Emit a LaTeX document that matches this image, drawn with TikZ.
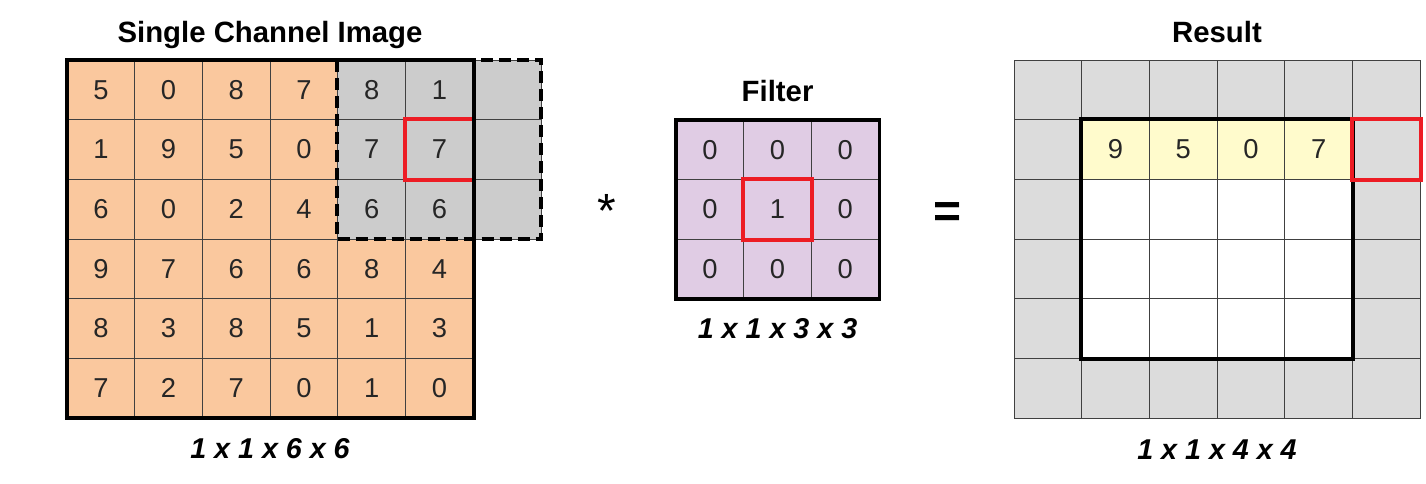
\documentclass[tikz,border=0pt]{standalone}
\usepackage{fontspec}
\setmainfont{Liberation Sans}
\definecolor{peach}{HTML}{FAC89E}
\definecolor{padgray}{HTML}{CCCCCC}
\definecolor{lilac}{HTML}{E0CCE4}
\definecolor{cream}{HTML}{FFFBCC}
\definecolor{ringgray}{HTML}{DCDCDC}
\definecolor{hired}{HTML}{ED1C24}

\begin{document}
\begin{tikzpicture}[x=0.75pt, y=-0.75pt,
  cell/.style={rectangle, draw=black!75, line width=0.6pt, minimum width=50.8pt, minimum height=44.75pt, inner sep=0pt, text=black!85, font=\fontsize{20.5}{20.5}\selectfont},
  headline/.style={anchor=base, font=\fontsize{22}{22}\selectfont\bfseries},
  dimlabel/.style={anchor=base, font=\fontsize{21.5}{21.5}\selectfont\bfseries\itshape},
  opsym/.style={anchor=base, font=\fontsize{36}{36}\selectfont},
  gridframe/.style={draw=black, line width=2.9pt},
  padframe/.style={draw=black, line width=2.9pt, dash pattern=on 9pt off 4.5pt},
  redbox/.style={draw=hired, line width=2.9pt}]
  \filldraw[fill=white, draw=none] (0,0) rectangle (1426,483);
  % input image
  \node[cell, fill=peach] (i11) at (100.85,89.83) {5};
  \node[cell, fill=peach] (i12) at (168.55,89.83) {0};
  \node[cell, fill=peach] (i13) at (236.25,89.83) {8};
  \node[cell, fill=peach] (i14) at (303.95,89.83) {7};
  \node[cell, fill=padgray] (i15) at (371.65,89.83) {8};
  \node[cell, fill=padgray] (i16) at (439.35,89.83) {1};
  \node[cell, fill=padgray] (p1) at (507.05,89.83) {};
  \node[cell, fill=peach] (i21) at (100.85,149.5) {1};
  \node[cell, fill=peach] (i22) at (168.55,149.5) {9};
  \node[cell, fill=peach] (i23) at (236.25,149.5) {5};
  \node[cell, fill=peach] (i24) at (303.95,149.5) {0};
  \node[cell, fill=padgray] (i25) at (371.65,149.5) {7};
  \node[cell, fill=padgray] (i26) at (439.35,149.5) {7};
  \node[cell, fill=padgray] (p2) at (507.05,149.5) {};
  \node[cell, fill=peach] (i31) at (100.85,209.17) {6};
  \node[cell, fill=peach] (i32) at (168.55,209.17) {0};
  \node[cell, fill=peach] (i33) at (236.25,209.17) {2};
  \node[cell, fill=peach] (i34) at (303.95,209.17) {4};
  \node[cell, fill=padgray] (i35) at (371.65,209.17) {6};
  \node[cell, fill=padgray] (i36) at (439.35,209.17) {6};
  \node[cell, fill=padgray] (p3) at (507.05,209.17) {};
  \node[cell, fill=peach] (i41) at (100.85,268.83) {9};
  \node[cell, fill=peach] (i42) at (168.55,268.83) {7};
  \node[cell, fill=peach] (i43) at (236.25,268.83) {6};
  \node[cell, fill=peach] (i44) at (303.95,268.83) {6};
  \node[cell, fill=peach] (i45) at (371.65,268.83) {8};
  \node[cell, fill=peach] (i46) at (439.35,268.83) {4};
  \node[cell, fill=peach] (i51) at (100.85,328.5) {8};
  \node[cell, fill=peach] (i52) at (168.55,328.5) {3};
  \node[cell, fill=peach] (i53) at (236.25,328.5) {8};
  \node[cell, fill=peach] (i54) at (303.95,328.5) {5};
  \node[cell, fill=peach] (i55) at (371.65,328.5) {1};
  \node[cell, fill=peach] (i56) at (439.35,328.5) {3};
  \node[cell, fill=peach] (i61) at (100.85,388.17) {7};
  \node[cell, fill=peach] (i62) at (168.55,388.17) {2};
  \node[cell, fill=peach] (i63) at (236.25,388.17) {7};
  \node[cell, fill=peach] (i64) at (303.95,388.17) {0};
  \node[cell, fill=peach] (i65) at (371.65,388.17) {1};
  \node[cell, fill=peach] (i66) at (439.35,388.17) {0};
  \draw[padframe] (i15.north west) rectangle (p3.south east);
  \draw[redbox] (i26.north west) rectangle (i26.south east);
  \draw[gridframe] (i11.north west) rectangle (i66.south east);
  \node[headline] (imgtitle) at (270,42) {Single Channel Image};
  \node[dimlabel] (imgshape) at (270,458) {1 x 1 x 6 x 6};
  % filter
  \node[opsym] (conv) at (607,227) {*};
  \node[cell, fill=lilac] (f11) at (709.85,149.83) {0};
  \node[cell, fill=lilac] (f12) at (777.55,149.83) {0};
  \node[cell, fill=lilac] (f13) at (845.25,149.83) {0};
  \node[cell, fill=lilac] (f21) at (709.85,209.5) {0};
  \node[cell, fill=lilac] (f22) at (777.55,209.5) {1};
  \node[cell, fill=lilac] (f23) at (845.25,209.5) {0};
  \node[cell, fill=lilac] (f31) at (709.85,269.17) {0};
  \node[cell, fill=lilac] (f32) at (777.55,269.17) {0};
  \node[cell, fill=lilac] (f33) at (845.25,269.17) {0};
  \draw[redbox] (f22.north west) rectangle (f22.south east);
  \draw[gridframe] (f11.north west) rectangle (f33.south east);
  \node[headline] (filtitle) at (777.55,101) {Filter};
  \node[dimlabel] (filshape) at (777.55,338) {1 x 1 x 3 x 3};
  \node[opsym, font=\fontsize{36}{36}\selectfont\bfseries] (equals) at (947,227) {=};
  % result
  \node[cell, fill=ringgray] (r11) at (1047.85,89.83) {};
  \node[cell, fill=ringgray] (r12) at (1115.55,89.83) {};
  \node[cell, fill=ringgray] (r13) at (1183.25,89.83) {};
  \node[cell, fill=ringgray] (r14) at (1250.95,89.83) {};
  \node[cell, fill=ringgray] (r15) at (1318.65,89.83) {};
  \node[cell, fill=ringgray] (r16) at (1386.35,89.83) {};
  \node[cell, fill=ringgray] (r21) at (1047.85,149.5) {};
  \node[cell, fill=cream] (r22) at (1115.55,149.5) {9};
  \node[cell, fill=cream] (r23) at (1183.25,149.5) {5};
  \node[cell, fill=cream] (r24) at (1250.95,149.5) {0};
  \node[cell, fill=cream] (r25) at (1318.65,149.5) {7};
  \node[cell, fill=ringgray] (r26) at (1386.35,149.5) {};
  \node[cell, fill=ringgray] (r31) at (1047.85,209.17) {};
  \node[cell, fill=white] (r32) at (1115.55,209.17) {};
  \node[cell, fill=white] (r33) at (1183.25,209.17) {};
  \node[cell, fill=white] (r34) at (1250.95,209.17) {};
  \node[cell, fill=white] (r35) at (1318.65,209.17) {};
  \node[cell, fill=ringgray] (r36) at (1386.35,209.17) {};
  \node[cell, fill=ringgray] (r41) at (1047.85,268.83) {};
  \node[cell, fill=white] (r42) at (1115.55,268.83) {};
  \node[cell, fill=white] (r43) at (1183.25,268.83) {};
  \node[cell, fill=white] (r44) at (1250.95,268.83) {};
  \node[cell, fill=white] (r45) at (1318.65,268.83) {};
  \node[cell, fill=ringgray] (r46) at (1386.35,268.83) {};
  \node[cell, fill=ringgray] (r51) at (1047.85,328.5) {};
  \node[cell, fill=white] (r52) at (1115.55,328.5) {};
  \node[cell, fill=white] (r53) at (1183.25,328.5) {};
  \node[cell, fill=white] (r54) at (1250.95,328.5) {};
  \node[cell, fill=white] (r55) at (1318.65,328.5) {};
  \node[cell, fill=ringgray] (r56) at (1386.35,328.5) {};
  \node[cell, fill=ringgray] (r61) at (1047.85,388.17) {};
  \node[cell, fill=ringgray] (r62) at (1115.55,388.17) {};
  \node[cell, fill=ringgray] (r63) at (1183.25,388.17) {};
  \node[cell, fill=ringgray] (r64) at (1250.95,388.17) {};
  \node[cell, fill=ringgray] (r65) at (1318.65,388.17) {};
  \node[cell, fill=ringgray] (r66) at (1386.35,388.17) {};
  \draw[gridframe] (r22.north west) rectangle (r55.south east);
  \draw[redbox] (r26.north west) rectangle (r26.south east);
  \node[headline] (restitle) at (1217,42) {Result};
  \node[dimlabel] (resshape) at (1217,459) {1 x 1 x 4 x 4};
\end{tikzpicture}
\end{document}
